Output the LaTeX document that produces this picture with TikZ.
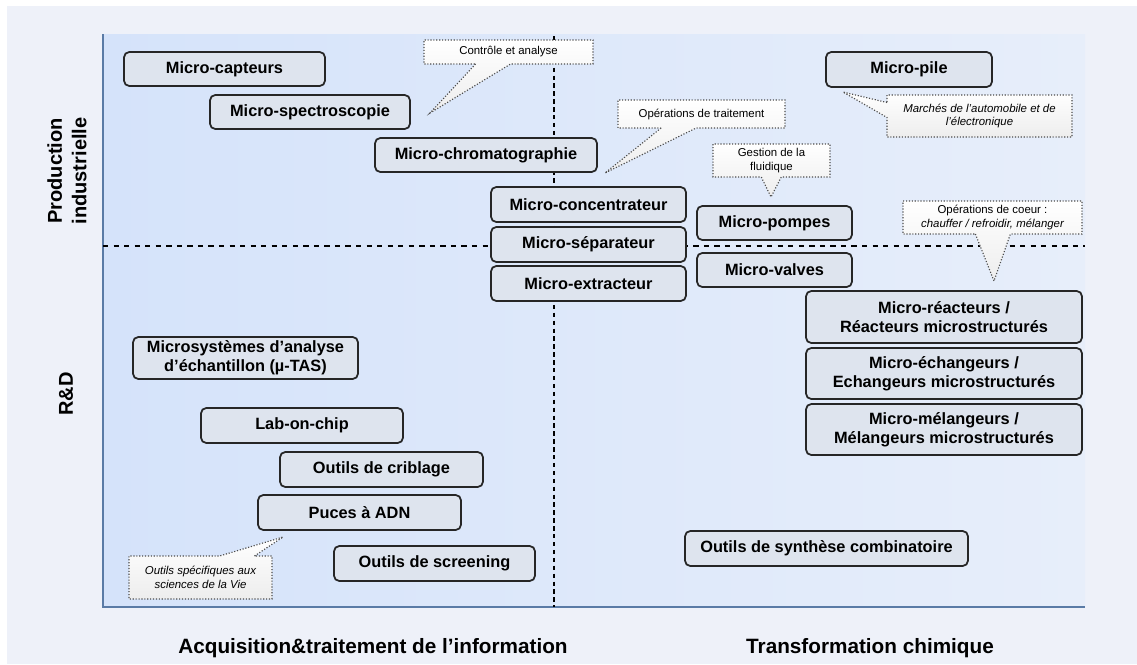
\documentclass[tikz,border=0pt]{standalone}
\usepackage{fontspec}
\setmainfont{Liberation Sans}
\usetikzlibrary{shapes.callouts}
\definecolor{axisblue}{HTML}{5A7BA6}
\definecolor{plotblue}{HTML}{D5E3FA}
\definecolor{plotpale}{HTML}{E7EEFA}
\definecolor{pagebg}{HTML}{EEF1F9}
\definecolor{boxfill}{HTML}{DEE4EE}
\tikzset{
  techbox/.style={draw=black!85, line width=1pt, rounded corners=3pt, fill=boxfill, font=\fontsize{9.3}{11}\selectfont\bfseries, align=center, inner sep=0pt},
  remark/.style={rectangle callout, draw=black!70, densely dotted, line width=0.65pt, top color=white, bottom color=gray!14, font=\fontsize{6.5}{7.6}\selectfont, align=center, inner sep=0pt, callout pointer width=0.7cm},
  axislabel/.style={font=\fontsize{11.8}{14}\selectfont\bfseries, align=center},
}
\begin{document}
\begin{tikzpicture}[x=0.02cm, y=-0.02cm]
\useasboundingbox (0,0) rectangle (1137,664);
\fill[pagebg] (0,0) rectangle (1137,664);
\fill[white] (0,0) rectangle (1137,6); \fill[white] (0,0) rectangle (7,664);
% quadrant area
\fill[left color=plotblue, right color=plotpale] (103,34) rectangle (1085,607);
\draw[axisblue, line width=1.4pt] (103,34) -- (103,607) -- (1085,607);
\draw[dashed, line width=0.6pt] (103,246) -- (1085,246);
\draw[dash pattern=on 2.5pt off 2pt, line width=0.6pt] (554,36) -- (554,607);
% axis labels
\node[axislabel, rotate=90, font=\fontsize{11.4}{14}\selectfont\bfseries] (prod) at (67,171) {Production\\industrielle};
\node[axislabel, rotate=90, font=\fontsize{11.4}{14}\selectfont\bfseries] (rd) at (66,394) {R\&D};
\node[axislabel] (acq) at (373,648) {Acquisition\&traitement de l’information};
\node[axislabel] (transf) at (870,648) {Transformation chimique};
% boxes
\node[techbox, minimum width=4.02cm, minimum height=0.68cm] (capteurs) at (224.5,69) {Micro-capteurs};
\node[techbox, minimum width=4.0cm, minimum height=0.68cm] (spectro) at (310,112) {Micro-spectroscopie};
\node[techbox, minimum width=4.44cm, minimum height=0.68cm] (chromato) at (486,155) {Micro-chromatographie};
\node[techbox, minimum width=3.9cm, minimum height=0.7cm] (concentr) at (588.5,204.5) {Micro-concentrateur};
\node[techbox, minimum width=3.9cm, minimum height=0.7cm] (separ) at (588.5,244.5) {Micro-séparateur};
\node[techbox, minimum width=3.9cm, minimum height=0.7cm] (extract) at (588.5,283.5) {Micro-extracteur};
\node[techbox, minimum width=3.1cm, minimum height=0.68cm] (pompes) at (774.5,223) {Micro-pompes};
\node[techbox, minimum width=3.1cm, minimum height=0.68cm] (valves) at (774.5,270) {Micro-valves};
\node[techbox, minimum width=3.32cm, minimum height=0.7cm] (pile) at (909,69.5) {Micro-pile};
\node[techbox, minimum width=5.52cm, minimum height=1.04cm] (reacteurs) at (944,317) {Micro-réacteurs /\\Réacteurs microstructurés};
\node[techbox, minimum width=5.52cm, minimum height=1.02cm] (echangeurs) at (944,373.5) {Micro-échangeurs /\\Echangeurs microstructurés};
\node[techbox, minimum width=5.52cm, minimum height=1.02cm] (melangeurs) at (944,429.5) {Micro-mélangeurs /\\Mélangeurs microstructurés};
\node[techbox, minimum width=4.5cm, minimum height=0.84cm] (mutas) at (245.5,358) {Microsystèmes d’analyse\\d’échantillon (µ-TAS)};
\node[techbox, minimum width=4.04cm, minimum height=0.7cm] (labchip) at (302,425.5) {Lab-on-chip};
\node[techbox, minimum width=4.06cm, minimum height=0.7cm] (criblage) at (381.5,469.5) {Outils de criblage};
\node[techbox, minimum width=4.06cm, minimum height=0.7cm] (adn) at (359.5,512.5) {Puces à ADN};
\node[techbox, minimum width=4.02cm, minimum height=0.7cm] (screening) at (434.5,563.5) {Outils de screening};
\node[techbox, minimum width=5.66cm, minimum height=0.7cm] (synthese) at (826.5,548.5) {Outils de synthèse combinatoire};
% callouts
\coordinate (ctrltip) at (430,113);
\coordinate (traittip) at (605,173);
\coordinate (fluidtip) at (771,197);
\coordinate (marchtip) at (843,92);
\coordinate (coeurtip) at (994,281);
\coordinate (vietip) at (283,537);
\node[remark, minimum width=3.38cm, minimum height=0.48cm, callout absolute pointer=(ctrltip)] (ctrl) at (508.5,52) {Contrôle et analyse};
\node[remark, minimum width=3.34cm, minimum height=0.56cm, callout absolute pointer=(traittip)] (traitmt) at (701.5,114) {Opérations de traitement};
\node[remark, minimum width=2.34cm, minimum height=0.66cm, callout absolute pointer=(fluidtip), callout pointer width=0.4cm] (fluid) at (771.5,160.5) {Gestion de la\\fluidique};
\node[remark, minimum width=3.7cm, minimum height=0.84cm, callout absolute pointer=(marchtip), callout pointer width=0.3cm] (marches) at (979.5,116) {\itshape Marchés de l’automobile et de\\\itshape l’électronique};
\node[remark, minimum width=3.58cm, minimum height=0.66cm, callout absolute pointer=(coeurtip)] (coeur) at (992.5,217.5) {Opérations de coeur :\\\itshape chauffer / refroidir, mélanger};
\node[remark, minimum width=2.86cm, minimum height=0.86cm, callout absolute pointer=(vietip)] (vie) at (200.5,577.5) {\itshape Outils spécifiques aux\\\itshape sciences de la Vie};
\end{tikzpicture}
\end{document}
